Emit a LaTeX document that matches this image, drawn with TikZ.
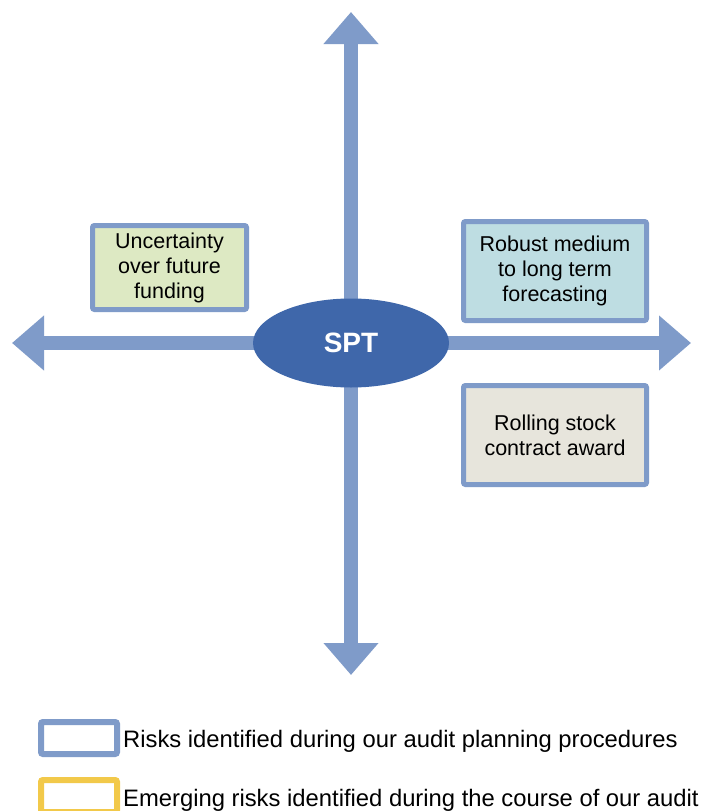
\documentclass[tikz,border=0pt]{standalone}
\usepackage{fontspec}
\setmainfont{Liberation Sans}
\usetikzlibrary{arrows.meta,shapes.geometric}
\definecolor{axisblue}{HTML}{7F9BC9}
\definecolor{sptblue}{HTML}{3F67AA}
\definecolor{riskgreen}{HTML}{DDE9C3}
\definecolor{riskcyan}{HTML}{BEDDE2}
\definecolor{riskgrey}{HTML}{E7E5DC}
\definecolor{emergeyellow}{HTML}{F2C94A}

\begin{document}
\begin{tikzpicture}[x=1pt,y=-1pt,
    axis/.style={draw=axisblue,line width=14pt,-{Triangle[length=32pt 0 0,width=53pt 0 0]}},
    riskbox/.style={draw=axisblue,line width=5pt,rounded corners=2pt,minimum width=154pt,minimum height=84pt,
        align=center,font=\fontsize{21.5}{25}\selectfont,inner sep=0pt},
    keybox/.style={draw=#1,line width=6pt,rounded corners=2pt,minimum width=76pt,minimum height=32pt,inner sep=0pt},
    keytext/.style={anchor=base west,inner sep=0pt,font=\fontsize{23.8}{26}\selectfont}]
    \useasboundingbox[fill=white] (0,0) rectangle (704,811);
    \coordinate (c) at (351,343);
    \coordinate (top) at (351,12);
    \coordinate (bottom) at (351,675);
    \coordinate (left) at (12,343);
    \coordinate (right) at (691,343);
    \draw[axis] (c) -- (top);
    \draw[axis] (c) -- (bottom);
    \draw[axis] (c) -- (left);
    \draw[axis] (c) -- (right);
    \node[ellipse,fill=sptblue,minimum width=196pt,minimum height=89pt,inner sep=0pt,
        text=white,font=\fontsize{28}{30}\selectfont\bfseries] (spt) at (c) {SPT};
    \node[riskbox,fill=riskgreen] (funding) at (169.5,267.5) {Uncertainty\\over future\\funding};
    \node[riskbox,fill=riskcyan,minimum width=183pt,minimum height=99pt] (forecast) at (555,271) {Robust medium\\to long term\\forecasting};
    \node[riskbox,fill=riskgrey,minimum width=183pt,minimum height=99pt] (stock) at (555,435) {Rolling stock\\contract award};
    \node[keybox=axisblue] (keyplan) at (79,738) {};
    \node[keybox=emergeyellow] (keyemerge) at (79,796) {};
    \node[keytext] (plantext) at (123,747) {Risks identified during our audit planning procedures};
    \node[keytext] (emergetext) at (123,806) {Emerging risks identified during the course of our audit};
  \end{tikzpicture}
\end{document}
